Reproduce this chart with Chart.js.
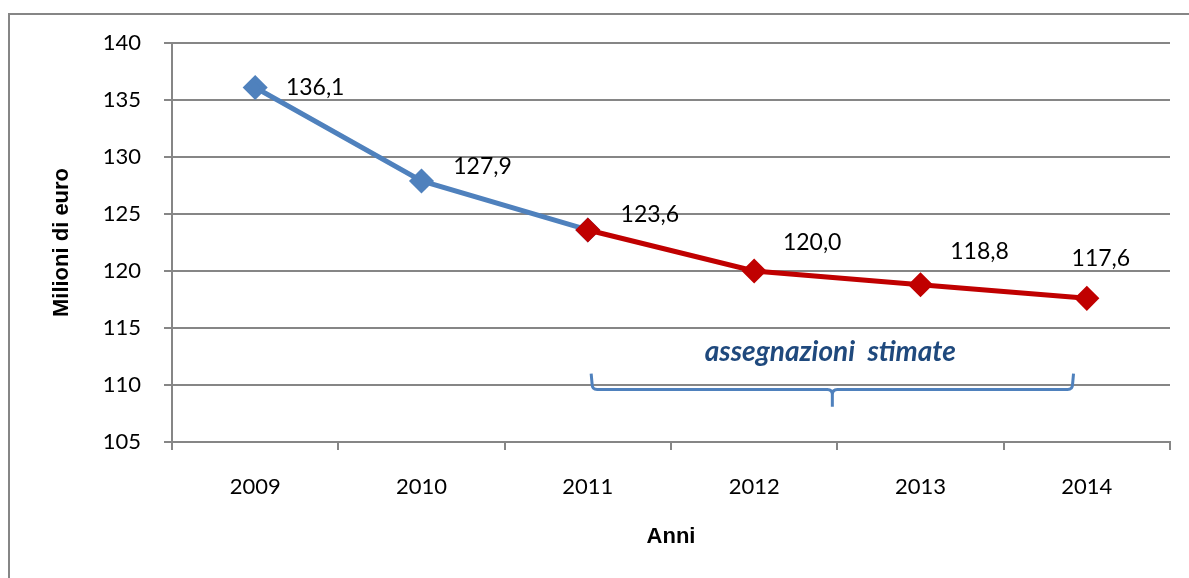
<!DOCTYPE html>
<html>
<head>
<meta charset="utf-8">
<script src="https://cdn.jsdelivr.net/npm/chart.js@4/dist/chart.umd.min.js"></script>
<style>
html, body { margin: 0; padding: 0; background: #fff; }
</style>
</head>
<body>
<canvas id="canvas1" width="1189" height="578"></canvas>
<script>
var anni = ['2009', '2010', '2011', '2012', '2013', '2014'];
var assegnazioni = [136.1, 127.9, 123.6, null, null, null];
var stimate = [null, null, 123.6, 120.0, 118.8, 117.6];
var yMin = 105, yMax = 140, yStep = 5;

// where each value label sits relative to its point (px)
var labelOffset = [[60, 0], [61, -14], [62, -15], [58, -28], [59, -33], [14, -40]];

var FONT = 'Lato, "Open Sans", sans-serif';
var TITLE_FONT = '"Liberation Sans", Arial, sans-serif';
var GRID = '#868686';

// outer frame of the chart
var frame = {
	id: 'frame',
	beforeDraw: function(chart) {
		var ctx = chart.ctx;
		ctx.save();
		ctx.strokeStyle = GRID;
		ctx.lineWidth = 2;
		ctx.strokeRect(9, 14, 1300, 700);
		ctx.restore();
	}
};

// value labels, decimal comma
var valori = {
	id: 'valori',
	afterDatasetsDraw: function(chart) {
		var ctx = chart.ctx;
		var xs = chart.scales.x, ys = chart.scales.y;
		ctx.save();
		ctx.font = '23px ' + FONT;
		ctx.fillStyle = '#000';
		ctx.textAlign = 'center';
		ctx.textBaseline = 'middle';
		for (var i = 0; i < anni.length; i++) {
			var v = stimate[i] != null ? stimate[i] : assegnazioni[i];
			if (v == null) continue;
			var x = xs.getPixelForValue(i) + labelOffset[i][0];
			var y = ys.getPixelForValue(v) + labelOffset[i][1];
			ctx.fillText(v.toFixed(1).replace('.', ','), x, y);
		}
		ctx.restore();
	}
};

// brace under the estimated years
var graffa = {
	id: 'graffa',
	afterDatasetsDraw: function(chart) {
		var ctx = chart.ctx;
		var xs = chart.scales.x, ys = chart.scales.y;
		var x0 = xs.getPixelForValue(2.02), x1 = xs.getPixelForValue(4.92);
		var xm = (x0 + x1) / 2;
		var yt = ys.getPixelForValue(111.0);
		var yl = ys.getPixelForValue(109.6);
		var yp = ys.getPixelForValue(108.1);
		var r = 5;
		ctx.save();
		ctx.strokeStyle = '#4F81BD';
		ctx.lineWidth = 3;
		ctx.beginPath();
		ctx.moveTo(x0, yt);
		ctx.lineTo(x0 + 1, yl - r);
		ctx.quadraticCurveTo(x0 + 1, yl, x0 + 1 + r, yl);
		ctx.lineTo(xm - r, yl);
		ctx.quadraticCurveTo(xm, yl, xm, yl + r);
		ctx.lineTo(xm, yp);
		ctx.moveTo(xm, yl + r);
		ctx.quadraticCurveTo(xm, yl, xm + r, yl);
		ctx.lineTo(x1 - 1 - r, yl);
		ctx.quadraticCurveTo(x1 - 1, yl, x1 - 1, yl - r);
		ctx.lineTo(x1, yt);
		ctx.stroke();
		ctx.font = 'italic bold 28px ' + FONT;
		ctx.fillStyle = '#1F497D';
		ctx.textAlign = 'center';
		ctx.textBaseline = 'middle';
		ctx.fillText('assegnazioni  stimate', xm - 2, ys.getPixelForValue(112.9));
		ctx.restore();
	}
};

var myChart = {
	type: 'line',
	data: {
		labels: anni,
		datasets: [
			{
				label: 'Assegnazioni',
				data: assegnazioni,
				borderColor: '#4F81BD',
				backgroundColor: '#4F81BD',
				borderWidth: 5,
				pointStyle: 'rectRot',
				pointRadius: 9,
				tension: 0,
				order: 1
			},
			{
				label: 'Assegnazioni stimate',
				data: stimate,
				borderColor: '#C00000',
				backgroundColor: '#C00000',
				borderWidth: 5,
				pointStyle: 'rectRot',
				pointRadius: 9,
				tension: 0,
				order: 0
			}
		]
	},
	options: {
		responsive: false,
		animation: false,
		layout: { padding: { left: 0, top: 43, right: 19, bottom: 0 } },
		plugins: {
			legend: { display: false },
			tooltip: { enabled: false }
		},
		scales: {
			x: {
				offset: true,
				grid: { offset: true, drawOnChartArea: false, drawTicks: true, tickLength: 8, color: GRID, lineWidth: 2 },
				border: { color: GRID, width: 2 },
				ticks: { color: '#000', font: { family: FONT, size: 22 }, padding: 24, maxRotation: 0 },
				title: { display: true, text: 'Anni', color: '#000', font: { family: TITLE_FONT, size: 22, weight: 'bold' }, padding: { top: 0, bottom: 28 } },
				afterFit: function(scale) { scale.height = 578 - 442; }
			},
			y: {
				min: yMin,
				max: yMax,
				ticks: { stepSize: yStep, color: '#000', font: { family: FONT, size: 22 }, padding: 23 },
				grid: { color: GRID, lineWidth: 2, tickLength: 8 },
				border: { color: GRID, width: 2 },
				title: { display: true, text: 'Milioni di euro', color: '#000', font: { family: TITLE_FONT, size: 22, weight: 'bold' }, padding: { top: 49, bottom: 0 } },
				afterFit: function(scale) { scale.width = 172; }
			}
		}
	},
	plugins: [frame, valori, graffa]
};

window.onload = function() {
	var ctx = document.getElementById('canvas1').getContext('2d');
	new Chart(ctx, myChart);
};
</script>
</body>
</html>
